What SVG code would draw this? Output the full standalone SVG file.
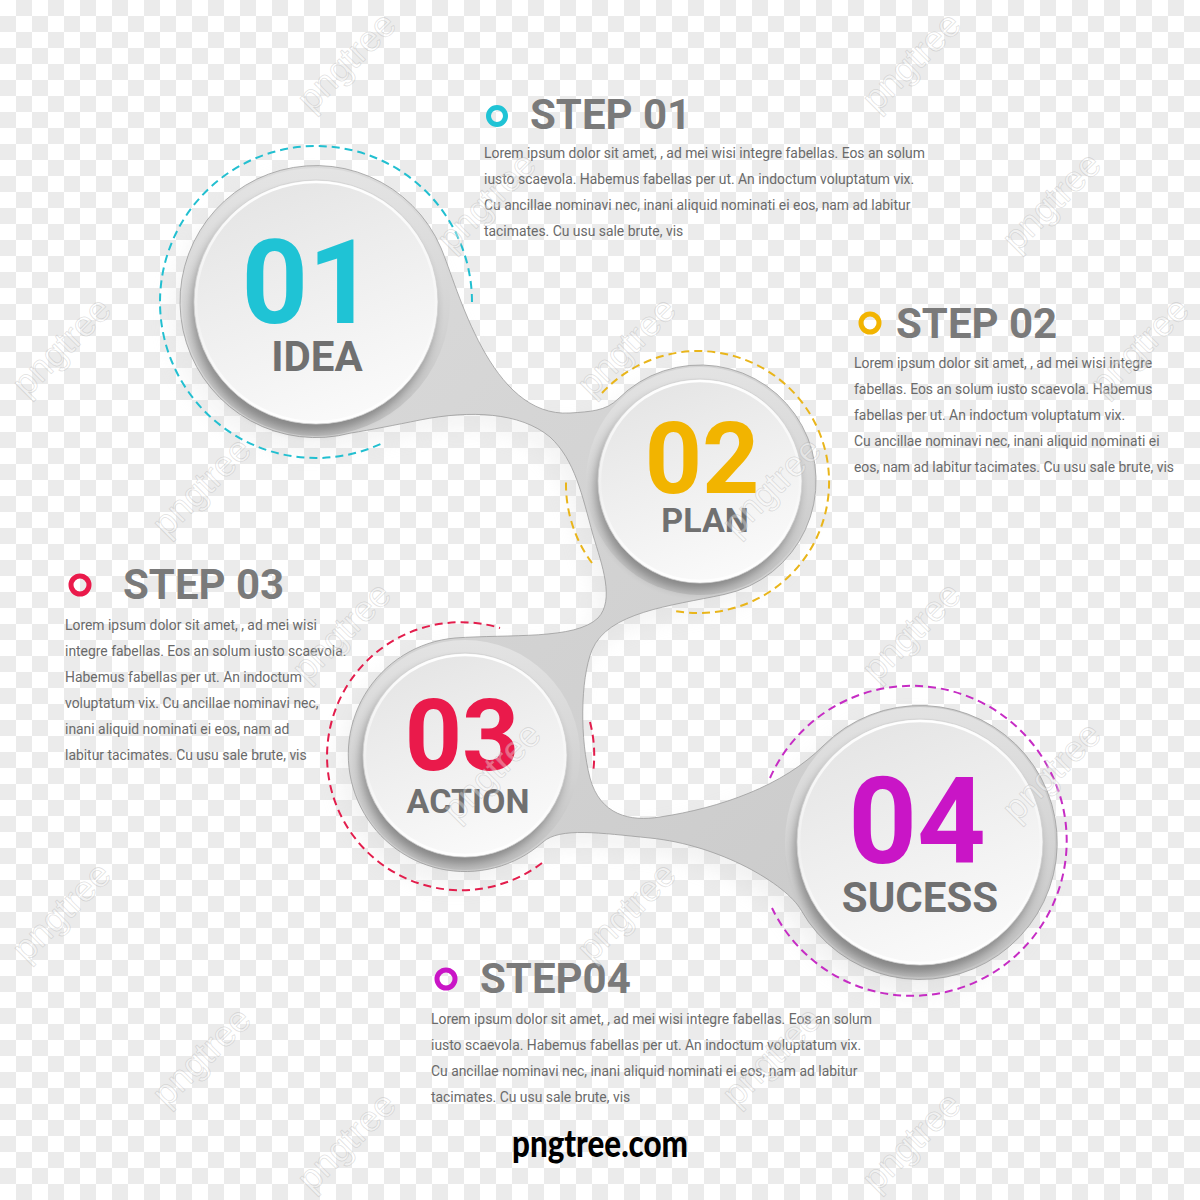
<svg xmlns="http://www.w3.org/2000/svg" xmlns:xlink="http://www.w3.org/1999/xlink" width="1200" height="1200" viewBox="0 0 1200 1200">
<defs>
<pattern id="checker" width="32" height="32" patternUnits="userSpaceOnUse">
<rect width="32" height="32" fill="#ffffff"/>
<rect x="16" y="0" width="16" height="16" fill="#ebebeb"/>
<rect x="0" y="16" width="16" height="16" fill="#ebebeb"/>
</pattern>
<linearGradient id="blobGrad" x1="0" y1="0" x2="1" y2="1">
<stop offset="0" stop-color="#dcdcdc"/>
<stop offset="1" stop-color="#c8c8c8"/>
</linearGradient>
<linearGradient id="ringGrad" x1="0" y1="0" x2="0" y2="1">
<stop offset="0" stop-color="#e6e6e6"/>
<stop offset="0.6" stop-color="#d2d2d2"/>
<stop offset="1" stop-color="#bcbcbc"/>
</linearGradient>
<linearGradient id="diskGrad" x1="0.2" y1="0" x2="0.6" y2="1">
<stop offset="0" stop-color="#e4e4e4"/>
<stop offset="1" stop-color="#fafafa"/>
</linearGradient>
<linearGradient id="rimGrad" x1="0" y1="0" x2="0" y2="1">
<stop offset="0" stop-color="#ffffff" stop-opacity="1"/>
<stop offset="0.55" stop-color="#ffffff" stop-opacity="0.2"/>
<stop offset="1" stop-color="#ffffff" stop-opacity="0.9"/>
</linearGradient>
<filter id="bigBlur" x="-20%" y="-20%" width="140%" height="140%">
<feGaussianBlur stdDeviation="10"/>
</filter>
<filter id="smallBlur" x="-20%" y="-20%" width="140%" height="140%">
<feGaussianBlur stdDeviation="5"/>
</filter>
<style>
.body{font-family:Roboto,"Liberation Sans",sans-serif;font-size:13.9px;fill:#6a6a6a}
.head{font-family:Roboto,"Liberation Sans",sans-serif;font-weight:bold;font-size:42px;fill:#7a7a7a}
.num{font-family:Roboto,"Liberation Sans",sans-serif;font-weight:bold;text-anchor:middle}
.lbl{font-family:Roboto,"Liberation Sans",sans-serif;font-weight:bold;text-anchor:middle;fill:#707070}
.dash{fill:none;stroke-width:2;stroke-dasharray:8 5}
.icon{fill:none;stroke-width:5}
.ring{fill:url(#ringGrad)}
.disk{fill:url(#diskGrad);stroke:#d0d0d0;stroke-width:0.8}
.rim{fill:none;stroke:url(#rimGrad);stroke-width:2.5}
.dshadow{fill:#000;opacity:0.3;filter:url(#smallBlur)}
.wm{font-family:"Liberation Sans",sans-serif;font-size:36px;text-anchor:middle;fill:#ffffff;fill-opacity:0.35;stroke:#9a9a9a;stroke-opacity:0.3;stroke-width:0.8}
</style>
</defs>

<rect width="1200" height="1200" fill="url(#checker)"/>

<g id="connectors">
<use xlink:href="#blob" href="#blob" transform="translate(-9,13)" fill="#000" opacity="0.25" filter="url(#bigBlur)"/>
<path id="blob" fill="url(#blobGrad)" stroke="#9c9c9c" stroke-width="0.8" d="M441,248 C458,288 490,418 570,413 C590,411.7 606,411 618,399 A116,116 0 1,1 724,594.5 C670,606 608,612 592,650 C580,680 580,740 590,778 C600,815 630,822 660,817 C720,808 783,786 823,746 A137,137 0 1,1 801,910 C786,884 720,845 650,838 C600,833 560,827 543,842 A117,117 0 1,1 455,638 C510,634 575,640 598,618 C615,600 602,565 593,535 C582,495 575,460 550,437 C520,412 470,410 420,420 C395,425 370,430 351,433 A136,136 0 1,1 441,248 Z"/>
</g>

<g id="node-1">
<path class="dash" stroke="#22bfd0" d="M380.4,444.1 A156,156 0 1,1 472,302"/>
<circle class="ring" cx="316" cy="302" r="134" opacity="0.85"/>
<circle class="dshadow" cx="313" cy="310" r="122"/>
<circle class="disk" cx="316" cy="302" r="122"/>
<circle class="rim" cx="316" cy="302" r="120"/>
<text class="num" x="308" y="323" font-size="116" fill="#1fc3d5">01</text>
<text class="lbl" x="317" y="371" font-size="42">IDEA</text>
</g>

<g id="node-2">
<path class="dash" stroke="#e9b51a" d="M602,393 A131,131 0 1,1 675,611"/>
<path class="dash" stroke="#e9b51a" d="M592,563 A132,132 0 0,1 566,482"/>
<circle class="ring" cx="700" cy="481" r="114" opacity="0.85"/>
<circle class="dshadow" cx="697" cy="488" r="102"/>
<circle class="disk" cx="700" cy="481" r="102"/>
<circle class="rim" cx="700" cy="481" r="100"/>
<text class="num" x="702" y="493" font-size="100" fill="#f2b400">02</text>
<text class="lbl" x="705" y="532" font-size="34">PLAN</text>
</g>

<g id="node-3">
<path class="dash" stroke="#e31d4c" d="M542,863 A134,134 0 1,1 500,628"/>
<path class="dash" stroke="#e31d4c" d="M590,722 A132,132 0 0,1 593,773"/>
<circle class="ring" cx="465" cy="755" r="115" opacity="0.85"/>
<circle class="dshadow" cx="462" cy="762" r="102"/>
<circle class="disk" cx="465" cy="755" r="102"/>
<circle class="rim" cx="465" cy="755" r="100"/>
<text class="num" x="462" y="770" font-size="100" fill="#ea1a4b">03</text>
<text class="lbl" x="468" y="813" font-size="34">ACTION</text>
</g>

<g id="node-4">
<path class="dash" stroke="#c62cc4" d="M770,778 A155,155 0 1,1 772,908"/>
<circle class="ring" cx="920" cy="842" r="135" opacity="0.85"/>
<circle class="dshadow" cx="917" cy="850" r="123"/>
<circle class="disk" cx="920" cy="842" r="123"/>
<circle class="rim" cx="920" cy="842" r="121"/>
<text class="num" x="917" y="863" font-size="120" fill="#c915c6">04</text>
<text class="lbl" x="920" y="912" font-size="42">SUCESS</text>
</g>

<g id="step-1">
<circle class="icon" cx="497" cy="116" r="8.5" stroke="#1fc3d5"/>
<text class="head" x="530" y="129">STEP 01</text>
<text class="body" x="484" y="158">Lorem ipsum dolor sit amet, , ad mei wisi integre fabellas. Eos an solum</text>
<text class="body" x="484" y="184">iusto scaevola. Habemus fabellas per ut. An indoctum voluptatum vix.</text>
<text class="body" x="484" y="210">Cu ancillae nominavi nec, inani aliquid nominati ei eos, nam ad labitur</text>
<text class="body" x="484" y="236">tacimates. Cu usu sale brute, vis</text>
</g>

<g id="step-2">
<circle class="icon" cx="870" cy="323" r="9" stroke="#f2b400"/>
<text class="head" x="896" y="338">STEP 02</text>
<text class="body" x="854" y="368">Lorem ipsum dolor sit amet, , ad mei wisi integre</text>
<text class="body" x="854" y="394">fabellas. Eos an solum iusto scaevola. Habemus</text>
<text class="body" x="854" y="420">fabellas per ut. An indoctum voluptatum vix.</text>
<text class="body" x="854" y="446">Cu ancillae nominavi nec, inani aliquid nominati ei</text>
<text class="body" x="854" y="472">eos, nam ad labitur tacimates. Cu usu sale brute, vis</text>
</g>

<g id="step-3">
<circle class="icon" cx="80" cy="585" r="9" stroke="#ea1a4b"/>
<text class="head" x="123" y="599">STEP 03</text>
<text class="body" x="65" y="630">Lorem ipsum dolor sit amet, , ad mei wisi</text>
<text class="body" x="65" y="656">integre fabellas. Eos an solum iusto scaevola.</text>
<text class="body" x="65" y="682">Habemus fabellas per ut. An indoctum</text>
<text class="body" x="65" y="708">voluptatum vix. Cu ancillae nominavi nec,</text>
<text class="body" x="65" y="734">inani aliquid nominati ei eos, nam ad</text>
<text class="body" x="65" y="760">labitur tacimates. Cu usu sale brute, vis</text>
</g>

<g id="step-4">
<circle class="icon" cx="446" cy="979" r="9" stroke="#c915c6"/>
<text class="head" x="480" y="993">STEP04</text>
<text class="body" x="431" y="1024">Lorem ipsum dolor sit amet, , ad mei wisi integre fabellas. Eos an solum</text>
<text class="body" x="431" y="1050">iusto scaevola. Habemus fabellas per ut. An indoctum voluptatum vix.</text>
<text class="body" x="431" y="1076">Cu ancillae nominavi nec, inani aliquid nominati ei eos, nam ad labitur</text>
<text class="body" x="431" y="1102">tacimates. Cu usu sale brute, vis</text>
</g>

<g id="watermarks">
<text class="wm" transform="translate(355,70) rotate(-45)">pngtree</text>
<text class="wm" transform="translate(920,70) rotate(-45)">pngtree</text>
<text class="wm" transform="translate(495,210) rotate(-45)">pngtree</text>
<text class="wm" transform="translate(1060,210) rotate(-45)">pngtree</text>
<text class="wm" transform="translate(70,355) rotate(-45)">pngtree</text>
<text class="wm" transform="translate(635,355) rotate(-45)">pngtree</text>
<text class="wm" transform="translate(1148,355) rotate(-45)">pngtree</text>
<text class="wm" transform="translate(210,495) rotate(-45)">pngtree</text>
<text class="wm" transform="translate(780,495) rotate(-45)">pngtree</text>
<text class="wm" transform="translate(350,640) rotate(-45)">pngtree</text>
<text class="wm" transform="translate(920,640) rotate(-45)">pngtree</text>
<text class="wm" transform="translate(500,780) rotate(-45)">pngtree</text>
<text class="wm" transform="translate(1060,780) rotate(-45)">pngtree</text>
<text class="wm" transform="translate(70,920) rotate(-45)">pngtree</text>
<text class="wm" transform="translate(635,920) rotate(-45)">pngtree</text>
<text class="wm" transform="translate(210,1065) rotate(-45)">pngtree</text>
<text class="wm" transform="translate(780,1065) rotate(-45)">pngtree</text>
<text class="wm" transform="translate(355,1150) rotate(-45)">pngtree</text>
<text class="wm" transform="translate(920,1150) rotate(-45)">pngtree</text>
</g>

<text x="600" y="1157" text-anchor="middle" font-family="Lato,'Liberation Sans',sans-serif" font-weight="900" font-size="38" textLength="176" lengthAdjust="spacingAndGlyphs" fill="#000">pngtree.com</text>
</svg>
